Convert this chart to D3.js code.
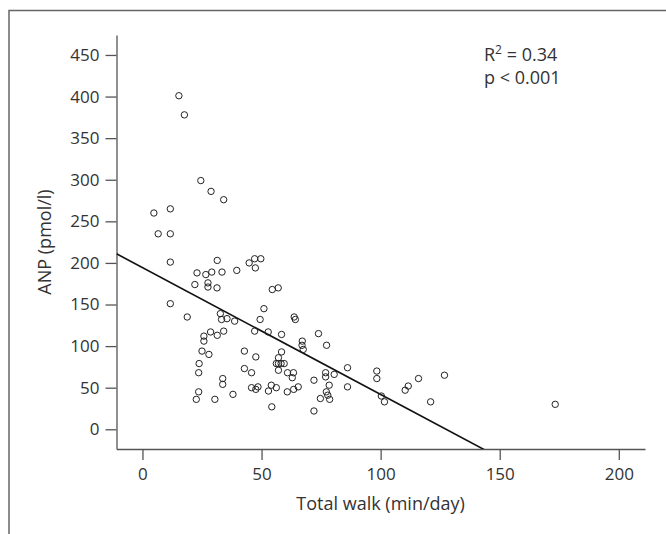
<!DOCTYPE html>
<html>
<head>
<meta charset="utf-8">
<script src="https://cdn.jsdelivr.net/npm/d3@7"></script>
<style>
  body { margin: 0; background: #fff; }
  svg text { font-family: "Open Sans", "Noto Sans", sans-serif; fill: #333; }
</style>
</head>
<body>
<div id="chart"></div>
<script>
"use strict";

// total walk (min/day) vs ANP (pmol/l)
var walk = [15.3, 17.6, 24.5, 28.8, 34.1, 4.8, 11.7, 6.6, 11.7, 11.7,
    11.7, 18.8, 22.9, 22.0, 26.6, 29.1, 27.5, 27.5, 31.3, 31.4,
    33.4, 39.6, 44.8, 47.1, 49.7, 47.4, 54.5, 57.0, 51.0, 49.4,
    32.7, 33.2, 35.5, 38.7, 28.6, 34.1, 25.8, 25.8, 31.4, 25.0,
    27.9, 23.8, 23.6, 23.6, 22.6, 30.4, 33.7, 33.7, 38.0, 42.8,
    42.8, 45.8, 47.1, 47.6, 45.8, 47.6, 48.5, 52.8, 58.4, 58.4,
    57.1, 57.1, 56.2, 58.2, 59.5, 57.1, 60.9, 63.4, 62.9, 52.9,
    54.1, 56.2, 54.3, 60.8, 63.5, 65.4, 63.7, 64.2, 67.1, 67.0,
    67.5, 73.9, 77.3, 72.0, 72.0, 74.7, 76.9, 76.9, 80.5, 78.4,
    77.2, 77.8, 78.6, 86.1, 86.1, 98.4, 98.4, 100.3, 101.6, 110.3,
    111.6, 115.9, 121.0, 126.8, 173.3];
var anp = [401, 378, 299, 286, 276, 260, 265, 235, 235, 201,
    151, 135, 188, 174, 186, 189, 176, 171, 170, 203,
    189, 191, 200, 205, 205, 194, 168, 170, 145, 132,
    139, 132, 133, 130, 117, 118, 112, 106, 113, 94,
    90, 79, 68, 45, 36, 36, 61, 54, 42, 94,
    73, 68, 118, 87, 50, 48, 51, 117, 114, 93,
    86, 79, 79, 79, 79, 71, 68, 68, 62, 46,
    53, 50, 27, 45, 48, 51, 135, 132, 106, 101,
    96, 115, 101, 59, 22, 37, 68, 63, 66, 53,
    45, 41, 36, 74, 51, 70, 61, 40, 33, 47,
    52, 61, 33, 65, 30];

var xTicks = [0, 50, 100, 150, 200];
var yTicks = [0, 50, 100, 150, 200, 250, 300, 350, 400, 450];
var fitIntercept = 194.4, fitSlope = -1.525;
var statLines = ["R2 = 0.34", "p < 0.001"];

var width = 666, height = 534;
var margin = {top: 35, right: 21, bottom: 85, left: 116.5};

var svg = d3.select("#chart").append("svg")
    .attr("width", width)
    .attr("height", height);

// frame, only top and left edges are visible
svg.append("path")
    .attr("d", "M9," + height + "V10.5H" + width)
    .attr("fill", "none")
    .attr("stroke", "#666")
    .attr("stroke-width", 1.5);

var x = d3.scaleLinear().domain([-10.9, 211]).range([margin.left, width - margin.right]);
var y = d3.scaleLinear().domain([-23.7, 474]).range([height - margin.bottom, margin.top]);

var xAxis = svg.append("g")
    .attr("transform", "translate(0," + y.range()[0] + ")")
    .call(d3.axisBottom(x).tickValues(xTicks).tickSize(11).tickPadding(8).tickSizeOuter(0));
var yAxis = svg.append("g")
    .attr("transform", "translate(" + x.range()[0] + ",0)")
    .call(d3.axisLeft(y).tickValues(yTicks).tickSize(11).tickPadding(6).tickSizeOuter(0));

[xAxis, yAxis].forEach(function (g) {
    g.select(".domain").attr("stroke", "#555").attr("stroke-width", 1.3);
    g.selectAll(".tick line").attr("stroke", "#555").attr("stroke-width", 1.3);
    g.selectAll(".tick text").attr("fill", "#333")
        .style("font-family", "'Open Sans', sans-serif").style("font-size", "17px");
});

svg.append("text")
    .attr("x", x(100))
    .attr("y", 510)
    .attr("text-anchor", "middle")
    .style("font-size", "18px")
    .text("Total walk (min/day)");

svg.append("text")
    .attr("transform", "translate(51," + ((y.range()[0] + y.range()[1]) / 2) + ") rotate(-90)")
    .attr("text-anchor", "middle")
    .style("font-size", "18px")
    .text("ANP (pmol/l)");

// regression line, clipped to the plot area
svg.append("clipPath").attr("id", "plotClip")
    .append("rect")
    .attr("x", x.range()[0]).attr("y", y.range()[1])
    .attr("width", x.range()[1] - x.range()[0])
    .attr("height", y.range()[0] - y.range()[1]);

var fitX = [-10.9, 150];
svg.append("line")
    .attr("clip-path", "url(#plotClip)")
    .attr("x1", x(fitX[0])).attr("y1", y(fitIntercept + fitSlope * fitX[0]))
    .attr("x2", x(fitX[1])).attr("y2", y(fitIntercept + fitSlope * fitX[1]))
    .attr("stroke", "#111")
    .attr("stroke-width", 1.6);

svg.append("g")
    .selectAll("circle")
    .data(walk.map(function (w, i) { return {w: w, a: anp[i]}; }))
    .enter().append("circle")
    .attr("cx", d => x(d.w))
    .attr("cy", d => y(d.a))
    .attr("r", 3.2)
    .attr("fill", "none")
    .attr("stroke", "#222")
    .attr("stroke-width", 1);

var stat = svg.append("text")
    .attr("x", 484)
    .attr("y", 61)
    .style("font-size", "18px");
stat.append("tspan").text("R");
stat.append("tspan").attr("dy", -7).style("font-size", "12px").text("2");
stat.append("tspan").attr("dy", 7).text(" = 0.34");

svg.append("text")
    .attr("x", 484)
    .attr("y", 84)
    .style("font-size", "18px")
    .text(statLines[1]);
</script>
</body>
</html>
